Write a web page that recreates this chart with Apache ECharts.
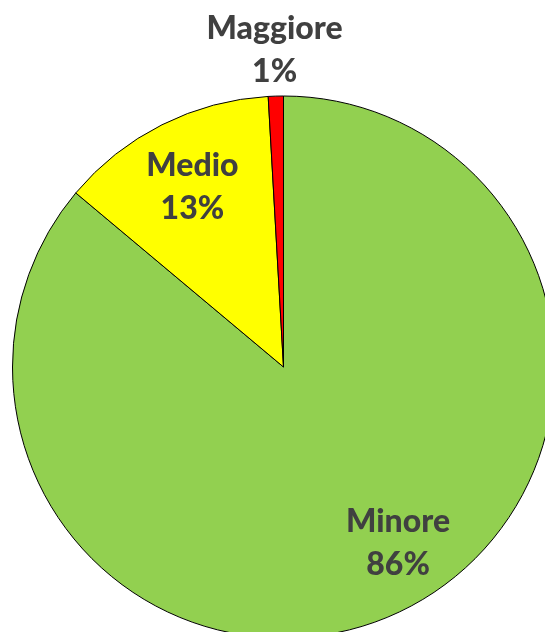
<!DOCTYPE html>
<html><head><meta charset="utf-8">
<script src="https://cdn.jsdelivr.net/npm/echarts@6/dist/echarts.min.js"></script>
<style>html,body{margin:0;padding:0;background:#fff}#c{width:545px;height:632px}</style>
</head><body><div id="c"></div>
<script>
const categories = ['Minore', 'Medio', 'Maggiore'];
const values = [86.1, 13.0, 0.9];
const colors = ['#92D050', '#FFFF00', '#FF0000'];
const labelOffsets = [[56, 51], [-29, -56], [-5, -178]];

const chart = echarts.init(document.getElementById('c'), null, {renderer: 'canvas'});
chart.setOption({
  animation: false,
  series: [{
    type: 'pie',
    center: [283.5, 367],
    radius: 271,
    startAngle: 90,
    clockwise: true,
    avoidLabelOverlap: false,
    labelLine: {show: false},
    itemStyle: {borderColor: '#000', borderWidth: 1},
    emphasis: {disabled: true},
    label: {
      show: true,
      position: 'inside',
      fontFamily: 'Lato',
      fontWeight: 900,
      fontSize: 32,
      lineHeight: 43,
      color: '#404040',
      formatter: p => p.name + '\n' + Math.round(p.percent) + '%'
    },
    data: categories.map((n, i) => ({
      name: n, value: values[i],
      itemStyle: {color: colors[i]},
      label: {offset: labelOffsets[i]}
    }))
  }]
});
</script></body></html>
